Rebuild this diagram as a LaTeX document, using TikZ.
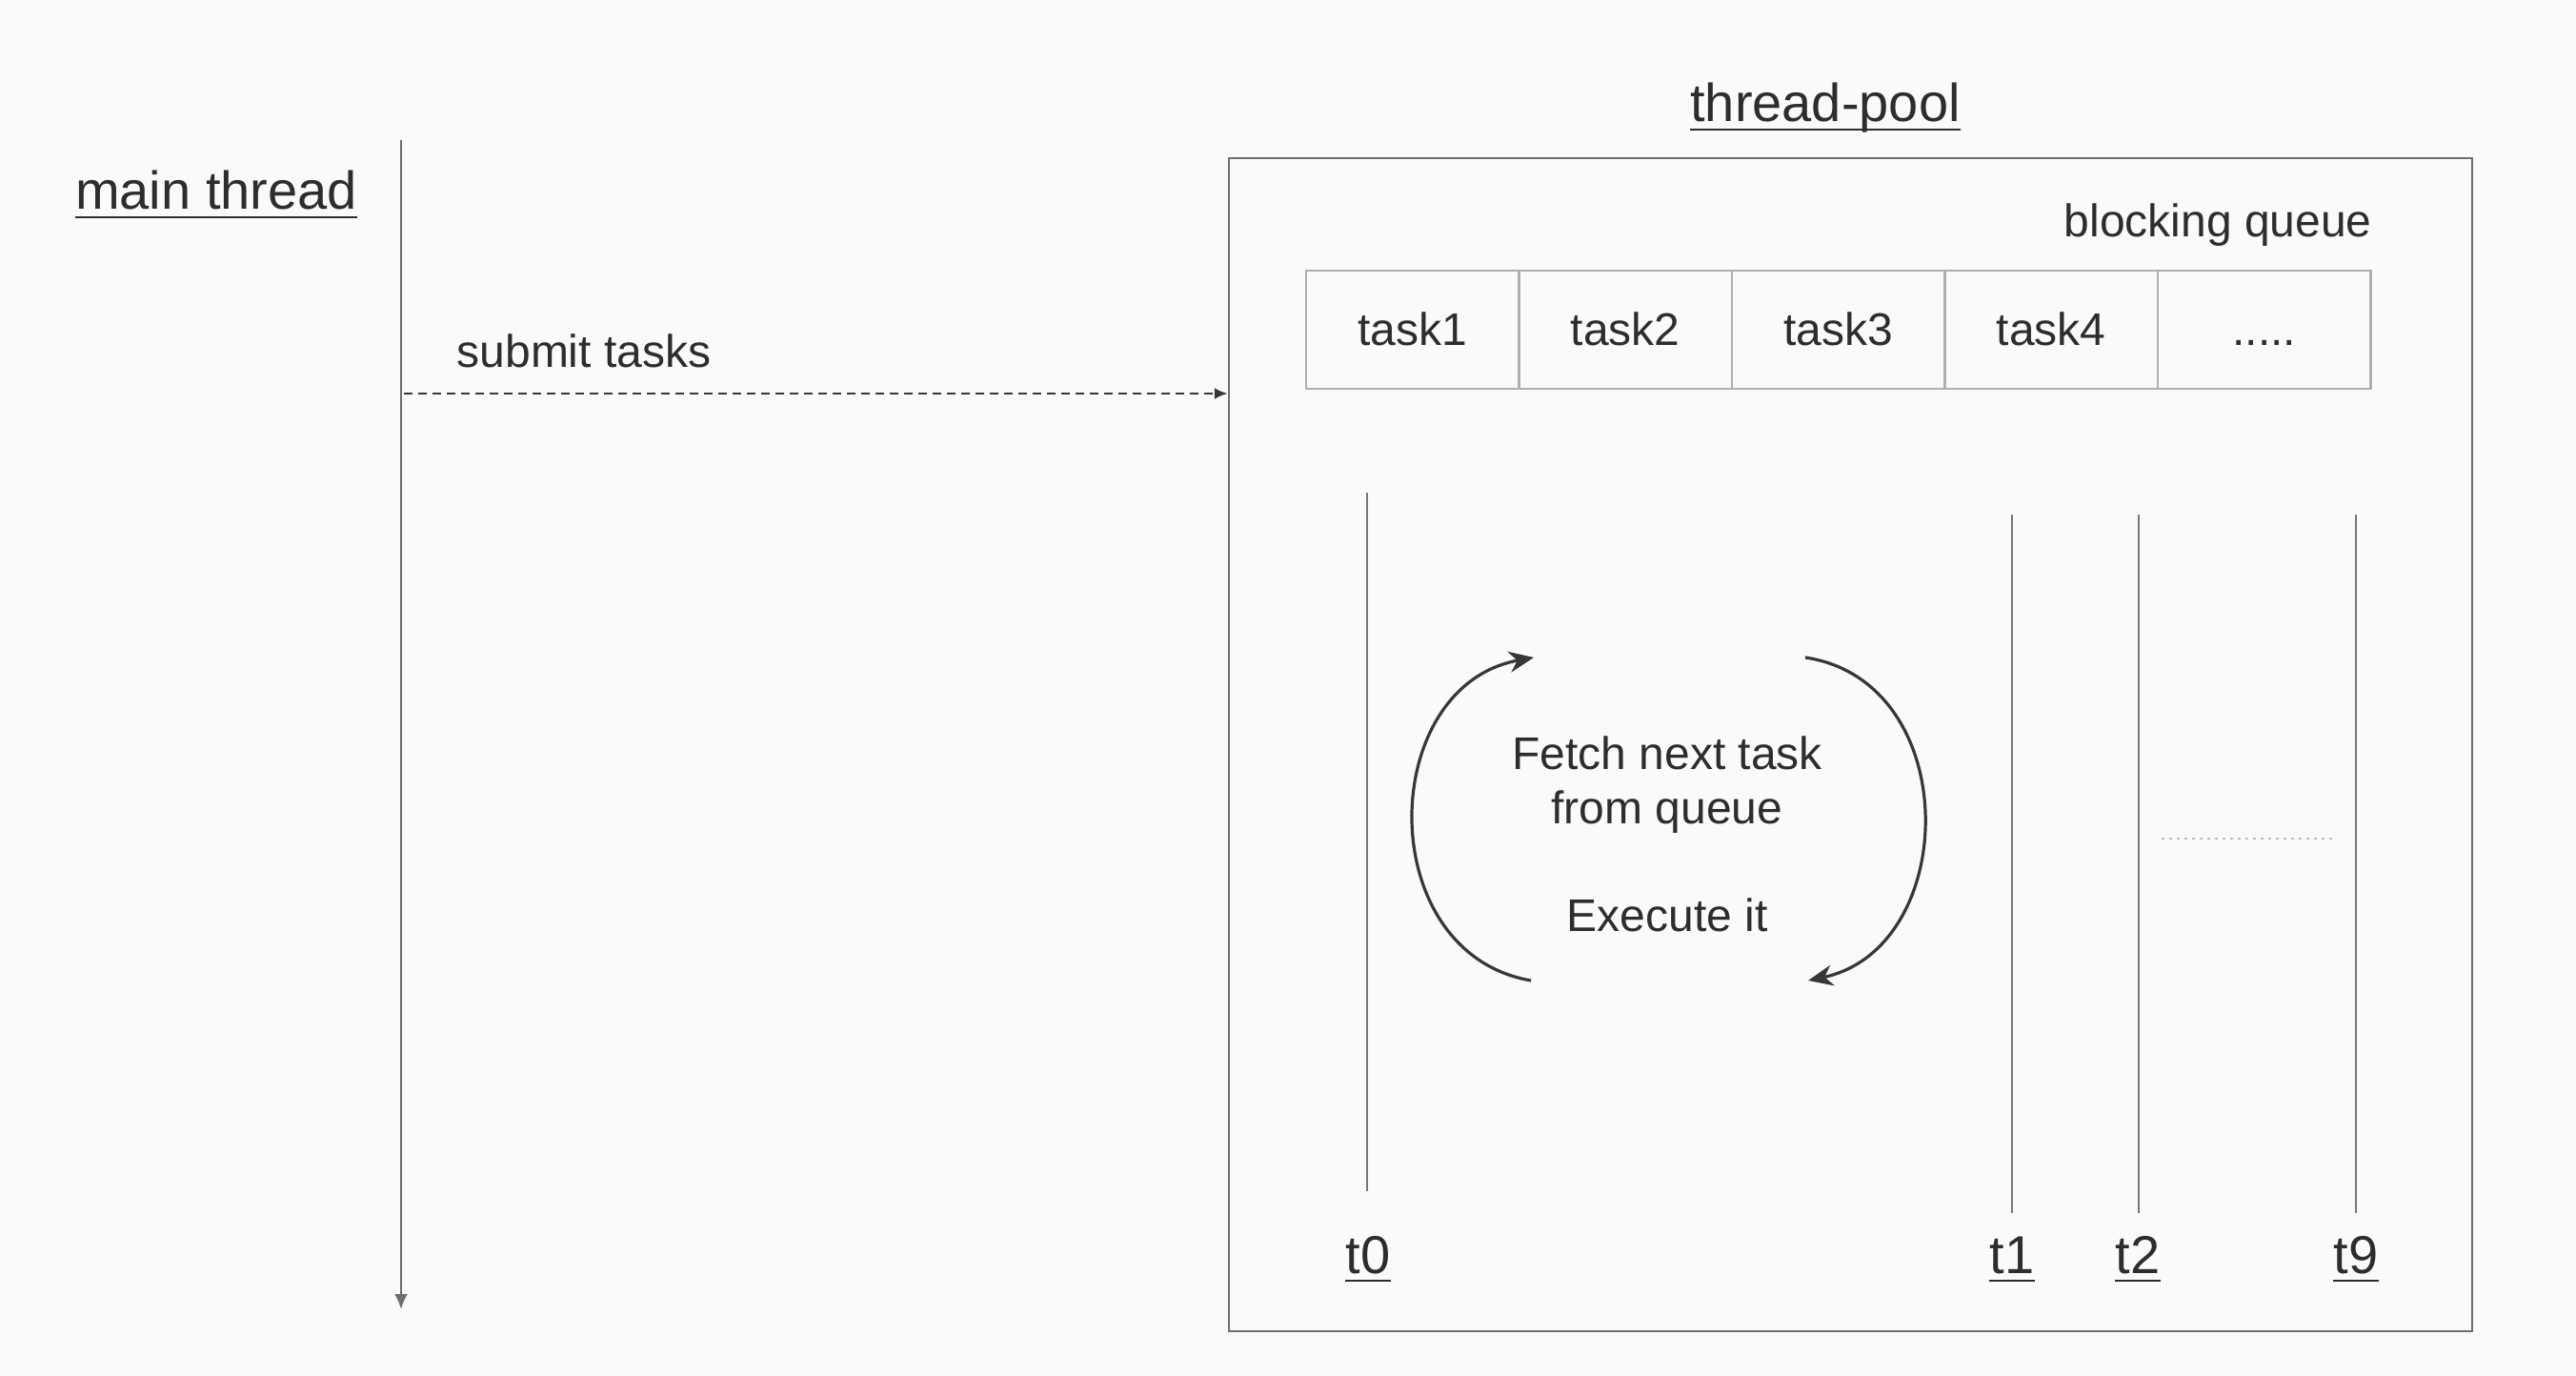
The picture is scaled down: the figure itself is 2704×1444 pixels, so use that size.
\documentclass[tikz,border=0pt]{standalone}
\usepackage{fontspec}
\setmainfont{Liberation Sans}
\usetikzlibrary{arrows.meta}
\definecolor{bgc}{RGB}{250,250,250}
\definecolor{txtc}{RGB}{45,45,45}
\definecolor{boxc}{RGB}{110,110,110}
\definecolor{qc}{RGB}{175,175,175}
\definecolor{linec}{RGB}{120,120,120}
\definecolor{arcc}{RGB}{55,55,55}
\definecolor{dotc}{RGB}{190,190,190}
\newcommand\myMid{\fontsize{24}{28.5}\selectfont}
\newcommand\myBig{\fontsize{28}{33}\selectfont}
\begin{document}
\begin{tikzpicture}[x=0.5pt,y=-0.5pt,
  lbl/.style={inner sep=0pt, text=txtc, font=\myMid},
  head/.style={inner sep=0pt, text=txtc, font=\myBig, anchor=base},
  ulline/.style={draw=txtc, line width=1.3pt},
  cell/.style={draw=qc, line width=1.2pt, minimum width=111.75pt, minimum height=62pt,
     inner sep=0pt, text=txtc, font=\myMid, text height=17pt, text depth=0pt},
  thr/.style={draw=linec, line width=1pt},
  loop/.style={draw=arcc, line width=1.6pt, -{Stealth[length=13pt,width=11pt]}}
]
\fill[bgc] (0,0) rectangle (2704,1444);
\useasboundingbox (0,0) rectangle (2704,1444);

% main thread
\node[head] (mainlbl) at (227,220) {main thread};
\draw[ulline] ([yshift=-4pt]mainlbl.base west) -- ([yshift=-4pt]mainlbl.base east);
\coordinate (mtop) at (421,147);
\coordinate (mbot) at (421,1374);
\draw[draw=boxc, line width=1.2pt, -{Latex[length=8pt,width=7pt]}] (mtop) -- (mbot);

% pool box
\node[draw=boxc, line width=1.2pt, minimum width=652.5pt, minimum height=615.5pt, inner sep=0pt] (pool) at (1942.5,781.5) {};
\node[head] (poollbl) at (1916,128) {thread-pool};
\draw[ulline] ([yshift=-4pt]poollbl.base west) -- ([yshift=-4pt]poollbl.base east);

% submit tasks
\node[lbl, anchor=base] (sublbl) at (613,386) {submit tasks};
\coordinate (subA) at (424,413);
\draw[draw=arcc, line width=1.3pt, dash pattern=on 4.5pt off 3pt, -{Latex[length=7pt,width=6pt]}] (subA) -- (subA -| pool.west);

% blocking queue
\node[lbl, anchor=base east] (bqlbl) at (2490,249) {blocking queue};
\node[cell] (q1) at (1482.75,346) {task1};
\node[cell] (q2) at (1706.25,346) {task2};
\node[cell] (q3) at (1929.75,346) {task3};
\node[cell] (q4) at (2153.25,346) {task4};
\node[cell] (q5) at (2376.75,346) {.....};

% threads
\coordinate (t0a) at (1435,517);  \coordinate (t0b) at (1435,1250);
\coordinate (t1a) at (2112,540);  \coordinate (t1b) at (2112,1273);
\coordinate (t2a) at (2245,540);  \coordinate (t2b) at (2245,1273);
\coordinate (t9a) at (2473,540);  \coordinate (t9b) at (2473,1273);
\draw[thr] (t0a) -- (t0b);
\draw[thr] (t1a) -- (t1b);
\draw[thr] (t2a) -- (t2b);
\draw[thr] (t9a) -- (t9b);
\node[head] (t0lbl) at (1436,1336) {t0};
\node[head] (t1lbl) at (2112,1336) {t1};
\node[head] (t2lbl) at (2244,1336) {t2};
\node[head] (t9lbl) at (2473,1336) {t9};
\foreach \n in {t0lbl,t1lbl,t2lbl,t9lbl}
  \draw[ulline] ([yshift=-4pt]\n.base west) -- ([yshift=-4pt]\n.base east);

% dotted between t2 and t9
\coordinate (dA) at (2269,880);
\coordinate (dB) at (2452,880);
\draw[draw=dotc, line width=1pt, dash pattern=on 1.5pt off 2.5pt] (dA) -- (dB);

% loop
\node[lbl, align=center, anchor=base] (fetch) at (1750,864) {Fetch next task\\from queue};
\node[lbl, anchor=base] (exec) at (1750,977) {Execute it};
\coordinate (Lb) at (1607,1029);
\coordinate (Lt) at (1610,690);
\coordinate (Rt) at (1895,690);
\coordinate (Rb) at (1898,1029);
\draw[loop] (Lb) .. controls (1440,1000) and (1445,720) .. (Lt);
\draw[loop] (Rt) .. controls (2062,715) and (2058,995) .. (Rb);
\end{tikzpicture}
\end{document}
